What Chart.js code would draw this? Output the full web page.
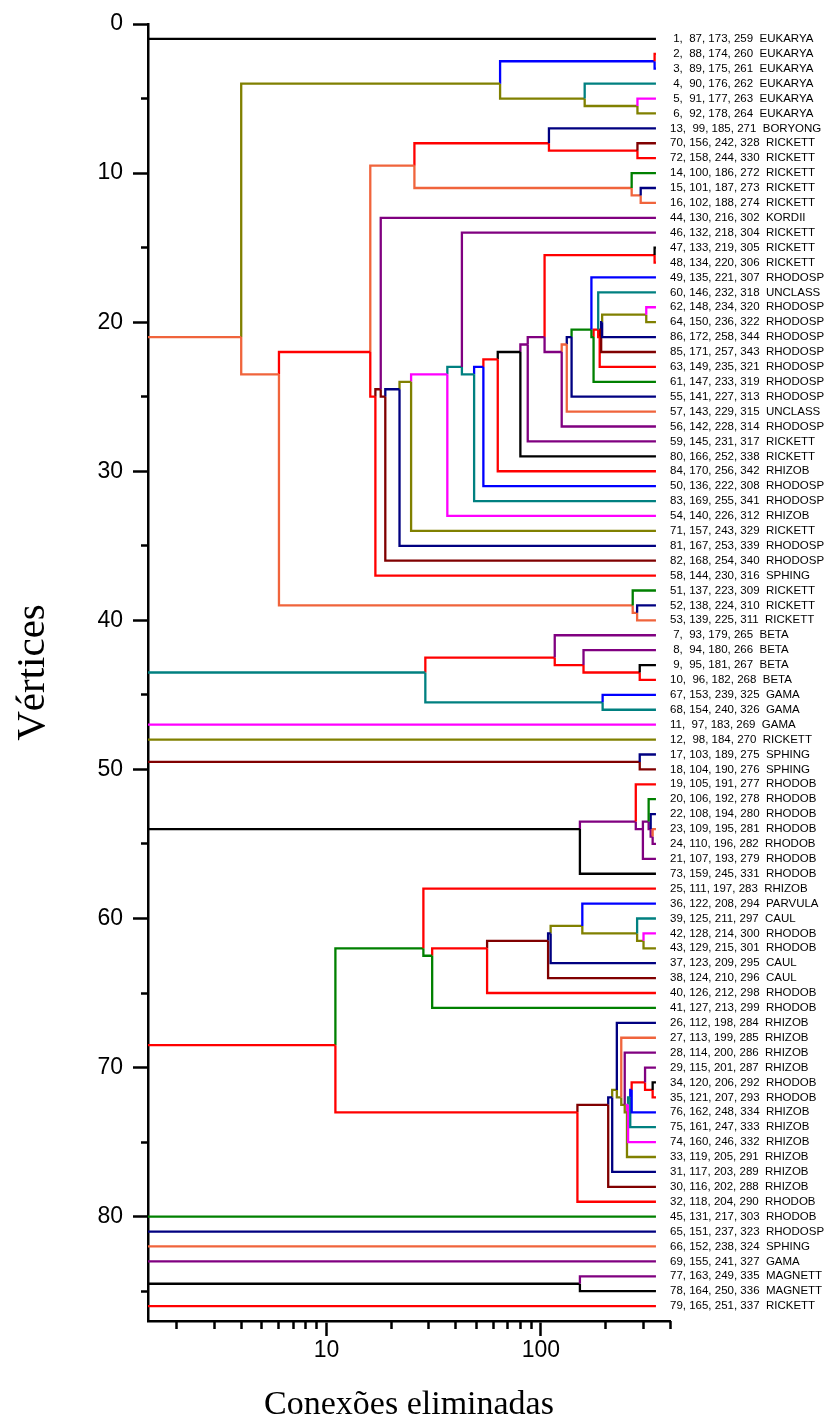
<!DOCTYPE html>
<html>
<head>
<meta charset="utf-8">
<script src="https://cdn.jsdelivr.net/npm/chart.js@4.4.1/dist/chart.umd.min.js"></script>
<style>
  html, body { margin: 0; padding: 0; background: #fff; }
  #wrap { width: 828px; height: 1426px; }
</style>
</head>
<body>
<div id="wrap"><canvas id="chart" width="828" height="1426"></canvas></div>
<script>
// leaves, top to bottom (position 1..86 on the y axis)
const leafLabels = [
  ' 1,  87, 173, 259  EUKARYA', ' 2,  88, 174, 260  EUKARYA', ' 3,  89, 175, 261  EUKARYA',
  ' 4,  90, 176, 262  EUKARYA', ' 5,  91, 177, 263  EUKARYA', ' 6,  92, 178, 264  EUKARYA',
  '13,  99, 185, 271  BORYONG', '70, 156, 242, 328  RICKETT', '72, 158, 244, 330  RICKETT',
  '14, 100, 186, 272  RICKETT', '15, 101, 187, 273  RICKETT', '16, 102, 188, 274  RICKETT',
  '44, 130, 216, 302  KORDII', '46, 132, 218, 304  RICKETT', '47, 133, 219, 305  RICKETT',
  '48, 134, 220, 306  RICKETT', '49, 135, 221, 307  RHODOSP', '60, 146, 232, 318  UNCLASS',
  '62, 148, 234, 320  RHODOSP', '64, 150, 236, 322  RHODOSP', '86, 172, 258, 344  RHODOSP',
  '85, 171, 257, 343  RHODOSP', '63, 149, 235, 321  RHODOSP', '61, 147, 233, 319  RHODOSP',
  '55, 141, 227, 313  RHODOSP', '57, 143, 229, 315  UNCLASS', '56, 142, 228, 314  RHODOSP',
  '59, 145, 231, 317  RICKETT', '80, 166, 252, 338  RICKETT', '84, 170, 256, 342  RHIZOB',
  '50, 136, 222, 308  RHODOSP', '83, 169, 255, 341  RHODOSP', '54, 140, 226, 312  RHIZOB',
  '71, 157, 243, 329  RICKETT', '81, 167, 253, 339  RHODOSP', '82, 168, 254, 340  RHODOSP',
  '58, 144, 230, 316  SPHING', '51, 137, 223, 309  RICKETT', '52, 138, 224, 310  RICKETT',
  '53, 139, 225, 311  RICKETT', ' 7,  93, 179, 265  BETA', ' 8,  94, 180, 266  BETA',
  ' 9,  95, 181, 267  BETA', '10,  96, 182, 268  BETA', '67, 153, 239, 325  GAMA',
  '68, 154, 240, 326  GAMA', '11,  97, 183, 269  GAMA', '12,  98, 184, 270  RICKETT',
  '17, 103, 189, 275  SPHING', '18, 104, 190, 276  SPHING', '19, 105, 191, 277  RHODOB',
  '20, 106, 192, 278  RHODOB', '22, 108, 194, 280  RHODOB', '23, 109, 195, 281  RHODOB',
  '24, 110, 196, 282  RHODOB', '21, 107, 193, 279  RHODOB', '73, 159, 245, 331  RHODOB',
  '25, 111, 197, 283  RHIZOB', '36, 122, 208, 294  PARVULA', '39, 125, 211, 297  CAUL',
  '42, 128, 214, 300  RHODOB', '43, 129, 215, 301  RHODOB', '37, 123, 209, 295  CAUL',
  '38, 124, 210, 296  CAUL', '40, 126, 212, 298  RHODOB', '41, 127, 213, 299  RHODOB',
  '26, 112, 198, 284  RHIZOB', '27, 113, 199, 285  RHIZOB', '28, 114, 200, 286  RHIZOB',
  '29, 115, 201, 287  RHIZOB', '34, 120, 206, 292  RHODOB', '35, 121, 207, 293  RHODOB',
  '76, 162, 248, 334  RHIZOB', '75, 161, 247, 333  RHIZOB', '74, 160, 246, 332  RHIZOB',
  '33, 119, 205, 291  RHIZOB', '31, 117, 203, 289  RHIZOB', '30, 116, 202, 288  RHIZOB',
  '32, 118, 204, 290  RHODOB', '45, 131, 217, 303  RHODOB', '65, 151, 237, 323  RHODOSP',
  '66, 152, 238, 324  SPHING', '69, 155, 241, 327  GAMA', '77, 163, 249, 335  MAGNETT',
  '78, 164, 250, 336  MAGNETT', '79, 165, 251, 337  RICKETT'
];

// clusters given as [first leaf, last leaf]; the leaf order above is the dendrogram order
const clusterSpans = [
  [1, 86],
  [2, 40], [2, 6], [2, 3], [4, 6], [5, 6],
  [7, 40], [7, 37], [7, 12], [7, 9], [8, 9], [10, 12], [11, 12],
  [13, 37], [13, 36], [14, 36], [14, 35], [14, 34], [14, 33], [14, 32],
  [15, 32], [15, 31], [15, 30], [15, 29], [15, 28], [15, 27], [15, 16],
  [17, 27], [17, 26], [17, 25], [17, 24], [18, 24], [18, 23], [19, 23],
  [19, 22], [19, 21], [19, 20], [38, 40], [39, 40],
  [41, 46], [41, 44], [42, 44], [43, 44], [45, 46],
  [49, 50],
  [51, 57], [51, 56], [52, 56], [52, 55], [53, 55], [54, 55],
  [58, 79], [58, 66], [59, 66], [59, 65], [59, 64], [59, 63], [59, 62], [60, 62], [61, 62],
  [67, 79], [67, 78], [67, 77], [67, 76], [68, 76], [69, 76], [70, 76], [70, 75],
  [70, 74], [70, 73], [70, 72], [71, 72],
  [84, 85]
];
// number of removed connections at which each cluster above splits
const clusterHeights = [
  1,
  4.0, 64.5, 339, 160, 282,
  6.0, 16.0, 25.7, 109, 282, 265, 292,
  16.9, 17.9, 18.8, 21.9, 24.8, 36.6, 42.8,
  48.8, 53.9, 62.9, 80.2, 86.8, 104, 339,
  125, 132, 139, 172, 176, 185, 188,
  191, 193, 310, 268, 281,
  28.9, 116, 158, 289, 194,
  289,
  152, 277, 299, 318, 325, 332,
  11.0, 28.3, 31.1, 56.1, 108, 111, 156, 281, 301,
  148, 206, 215, 226, 237, 246, 252, 255,
  261, 265, 306, 332,
  152
];
const leafEnd = 344;

const xMajorTicks = [10, 100];
const xMinorTicks = [2, 3, 4, 5, 6, 7, 8, 9, 20, 30, 40, 50, 60, 70, 80, 90, 200, 300, 400];
const yMajorTicks = [0, 10, 20, 30, 40, 50, 60, 70, 80];
const yMinorTicks = [5, 15, 25, 35, 45, 55, 65, 75, 85];

// colour cycle of the leaves; a cluster takes the colour of its last leaf
const palette = ['#000000', '#ff0000', '#0000ff', '#008080', '#ff00ff', '#808000', '#000080',
                 '#800000', '#ff0000', '#008000', '#000080', '#f0643c', '#800080', '#800080'];

// build nodes and find each node's parent (smallest cluster holding it)
const nodes = [];
leafLabels.forEach((_, i) => nodes.push({ from: i + 1, to: i + 1, h: leafEnd }));
clusterSpans.forEach((s, i) => nodes.push({ from: s[0], to: s[1], h: clusterHeights[i] }));
nodes.forEach(n => { n.y = (n.from + n.to) / 2; });

const datasets = [];
nodes.forEach(n => {
  let parent = null;
  clusterSpans.forEach((s, i) => {
    const inside = s[0] <= n.from && n.to <= s[1] && (s[1] - s[0]) > (n.to - n.from);
    if (inside && (!parent || (s[1] - s[0]) < (parent.to - parent.from))) {
      parent = nodes[leafLabels.length + i];
    }
  });
  if (!parent) return;
  datasets.push({
    data: [{ x: parent.h, y: parent.y }, { x: parent.h, y: n.y }, { x: n.h, y: n.y }],
    borderColor: palette[(n.to - 1) % palette.length],
    borderWidth: 2.3,
    showLine: true,
    pointRadius: 0,
    fill: false,
    tension: 0,
    xAxisID: 'x',
    yAxisID: 'y'
  });
});

const sans = 'Liberation Sans, Arial, sans-serif';
const serif = 'Liberation Serif, Times New Roman, serif';

new Chart(document.getElementById('chart'), {
  type: 'scatter',
  data: { datasets: datasets },
  options: {
    responsive: false,
    animation: false,
    layout: { padding: { top: 24, left: 0, right: 0, bottom: 0 } },
    plugins: { legend: { display: false }, tooltip: { enabled: false } },
    scales: {
      xMinor: {
        type: 'logarithmic', position: 'bottom', weight: 0, min: 1.47, max: 400,
        afterBuildTicks: s => { s.ticks = xMinorTicks.map(v => ({ value: v })); },
        ticks: { display: false },
        grid: { drawOnChartArea: false, tickLength: 8, tickWidth: 2.5, tickColor: '#000' },
        border: { display: false },
        afterFit: s => { s.height = 0; }
      },
      x: {
        type: 'logarithmic', position: 'bottom', weight: 1, min: 1.47, max: 400,
        afterBuildTicks: s => { s.ticks = xMajorTicks.map(v => ({ value: v })); },
        ticks: { callback: v => String(v), color: '#000', font: { family: sans, size: 23 }, padding: 1, maxRotation: 0 },
        grid: { drawOnChartArea: false, tickLength: 15, tickWidth: 2.5, tickColor: '#000' },
        border: { width: 2.5, color: '#000' },
        title: { display: true, text: 'Conexões eliminadas', color: '#000',
                 font: { family: serif, size: 34, lineHeight: 1 }, padding: { top: 0, bottom: 4 } },
        afterFit: s => { s.height = 105; }
      },
      yMinor: {
        type: 'linear', position: 'left', weight: 0, min: 0, max: 87, reverse: true,
        afterBuildTicks: s => { s.ticks = yMinorTicks.map(v => ({ value: v })); },
        ticks: { display: false },
        grid: { drawOnChartArea: false, tickLength: 7, tickWidth: 2.5, tickColor: '#000' },
        border: { display: false },
        afterFit: s => { s.width = 0; }
      },
      y: {
        type: 'linear', position: 'left', weight: 1, min: 0, max: 87, reverse: true,
        afterBuildTicks: s => { s.ticks = yMajorTicks.map(v => ({ value: v })); },
        ticks: { color: '#000', font: { family: sans, size: 23 }, padding: 10 },
        grid: { drawOnChartArea: false, tickLength: 15, tickWidth: 2.5, tickColor: '#000' },
        border: { width: 2.5, color: '#000' },
        title: { display: true, text: 'Vértices', color: '#000',
                 font: { family: serif, size: 41, lineHeight: 1 }, padding: { top: 13, bottom: 0 } },
        afterFit: s => { s.width = 148; }
      },
      yLab: {
        type: 'linear', position: 'right', min: 0, max: 87, reverse: true,
        afterBuildTicks: s => { s.ticks = leafLabels.map((_, i) => ({ value: i + 1 })); },
        ticks: { autoSkip: false, color: '#000', font: { family: sans, size: 11.5 }, padding: 0,
                 callback: v => leafLabels[v - 1] },
        grid: { display: false, drawTicks: false },
        border: { display: false },
        afterFit: s => { s.width = 158; }
      }
    }
  }
});
</script>
</body>
</html>
